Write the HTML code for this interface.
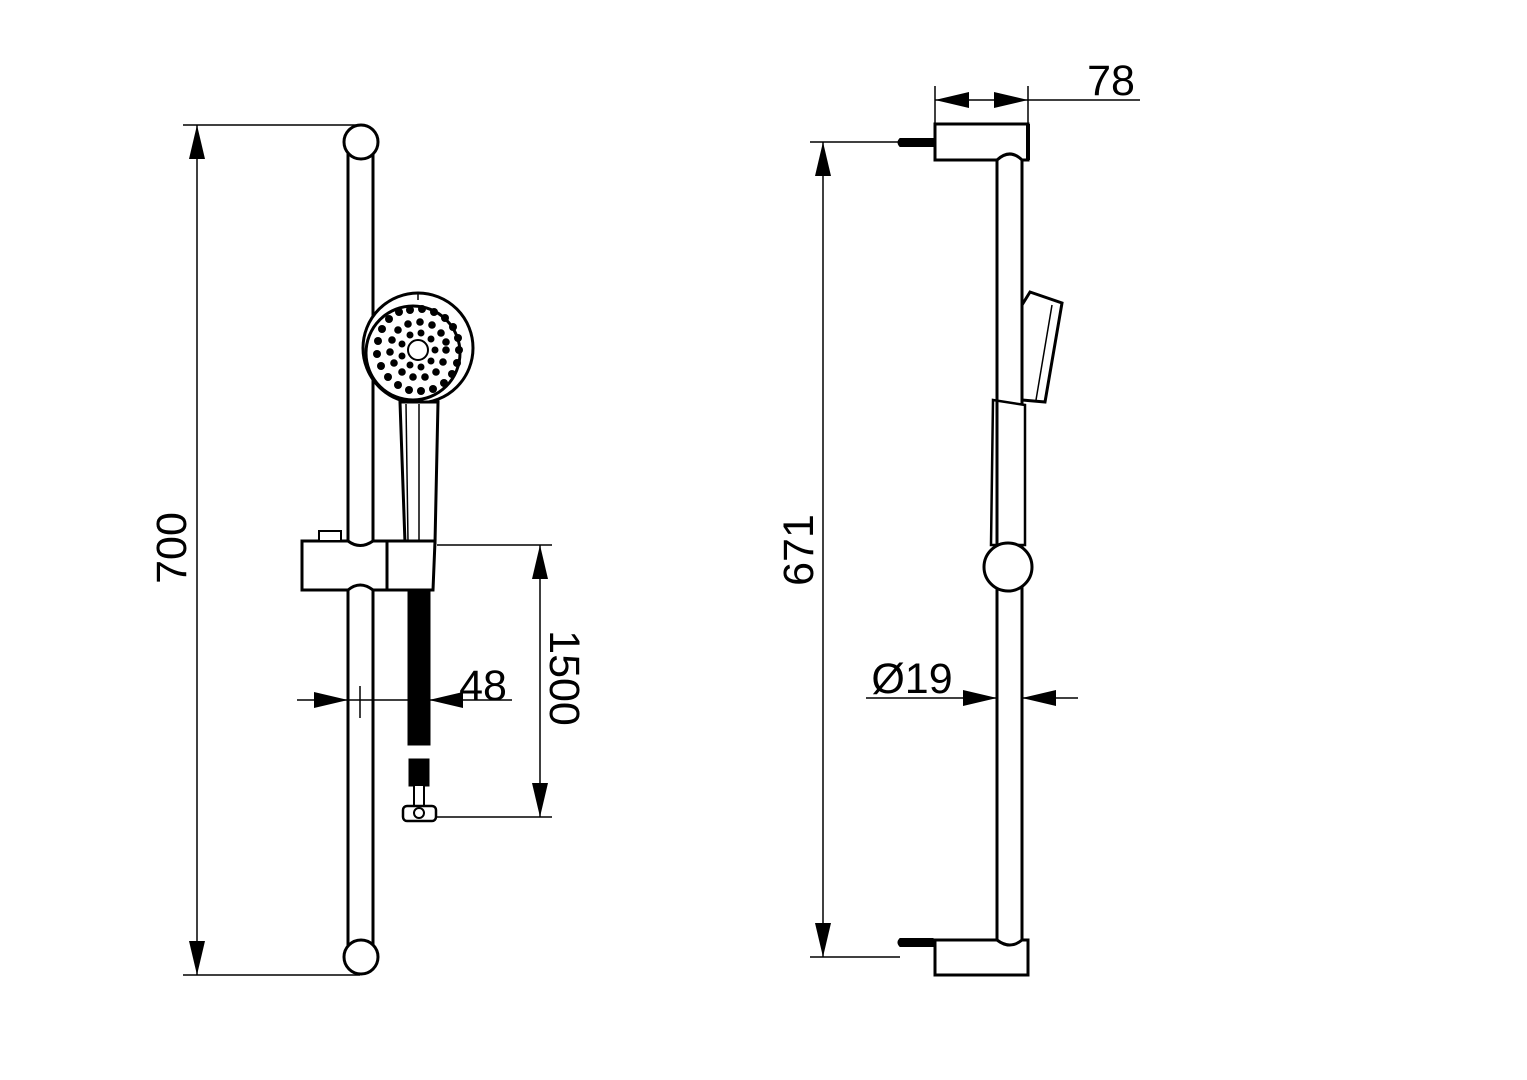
<!DOCTYPE html>
<html><head><meta charset="utf-8"><style>
html,body{margin:0;padding:0;background:#fff;}
svg{display:block;}
text{font-family:"Liberation Sans",sans-serif;font-size:43px;fill:#000;}
</style></head><body>
<svg width="1527" height="1080" viewBox="0 0 1527 1080" xmlns="http://www.w3.org/2000/svg">
<defs>
<marker id="a" viewBox="0 0 34 16" refX="34" refY="8" markerWidth="34" markerHeight="16" markerUnits="userSpaceOnUse" orient="auto-start-reverse"><path d="M0,0 L34,8 L0,16 Z" fill="#000"/></marker>
</defs>
<g stroke="#000" fill="none" stroke-width="1.5">
<line x1="183" y1="125" x2="360" y2="125"/>
<line x1="183" y1="975" x2="360" y2="975"/>
<line x1="197" y1="125" x2="197" y2="975" marker-start="url(#a)" marker-end="url(#a)"/>
<line x1="437" y1="545" x2="552" y2="545"/>
<line x1="437" y1="817" x2="552" y2="817"/>
<line x1="540" y1="545" x2="540" y2="817" marker-start="url(#a)" marker-end="url(#a)"/>
<line x1="297" y1="700" x2="348" y2="700" marker-end="url(#a)"/>
<line x1="512" y1="700" x2="429" y2="700" marker-end="url(#a)"/>
<line x1="348" y1="700" x2="429" y2="700"/>
<line x1="360" y1="686" x2="360" y2="718"/>
<line x1="935" y1="86" x2="935" y2="125"/>
<line x1="1028" y1="86" x2="1028" y2="125"/>
<line x1="935" y1="100" x2="1028" y2="100" marker-start="url(#a)" marker-end="url(#a)"/>
<line x1="1028" y1="100" x2="1140" y2="100"/>
<line x1="810" y1="142" x2="900" y2="142"/>
<line x1="810" y1="957" x2="900" y2="957"/>
<line x1="823" y1="142" x2="823" y2="957" marker-start="url(#a)" marker-end="url(#a)"/>
<line x1="866" y1="698" x2="997" y2="698" marker-end="url(#a)"/>
<line x1="1078" y1="698" x2="1022" y2="698" marker-end="url(#a)"/>
</g>
<g stroke="#000" fill="#fff" stroke-width="3">
<line x1="348" y1="150" x2="348" y2="950"/>
<line x1="373" y1="150" x2="373" y2="950"/>
<circle cx="361" cy="142" r="17"/>
<circle cx="361" cy="957" r="17"/>
<circle cx="418" cy="348" r="55"/>
<circle cx="413" cy="353" r="47"/>
<line x1="418" y1="292" x2="418" y2="300" stroke-width="1.5"/>
<path d="M400,402 L438,402 L435,543 L405,543 Z"/>
<line x1="419" y1="404" x2="419" y2="541" stroke-width="1.5"/>
<line x1="406" y1="404" x2="408" y2="541" stroke-width="1.5"/>
<circle cx="418" cy="350" r="10" stroke-width="2"/>
<path d="M302,541 L348,541 Q360,550 373,541 L435,541 L433,590 L373,590 Q360,580 348,590 L302,590 Z"/>
<line x1="387" y1="541" x2="387" y2="590"/>
<rect x="319" y="531" width="22" height="10" stroke-width="2"/>
<rect x="409" y="591" width="20" height="153" fill="#000"/>
<rect x="410" y="760" width="18" height="25" fill="#000"/>
<rect x="414" y="785" width="10" height="21" stroke-width="2"/>
<rect x="403" y="806" width="33" height="15" rx="4" stroke-width="2.5"/>
<circle cx="419" cy="813" r="5" stroke-width="2"/>
<line x1="997" y1="158" x2="997" y2="942"/>
<line x1="1022" y1="158" x2="1022" y2="942"/>
<path d="M935,124 L1028,124 L1028,160 L1022,160 Q1010,148 997,160 L935,160 Z"/>
<path d="M935,940 L997,940 Q1010,950 1022,940 L1028,940 L1028,975 L935,975 Z"/>
<line x1="1028" y1="124" x2="1028" y2="160" stroke-width="4"/>
<path d="M900,138.5 L933,138.5 L933,146.5 L900,146.5 Q896,142.5 900,138.5 Z" fill="#000" stroke-width="1"/>
<path d="M900,938.5 L933,938.5 L933,946.5 L900,946.5 Q896,942.5 900,938.5 Z" fill="#000" stroke-width="1"/>
<path d="M993,400 L1025,405 L1025,545 L991,545 Z" stroke-width="2.5"/>
<line x1="997" y1="400" x2="997" y2="545" stroke-width="3"/>
<path d="M1022,305 L1030,292 L1062,303 L1045,402 L1022,400 Z"/>
<line x1="1052" y1="305" x2="1036" y2="400" stroke-width="1.5"/>
<circle cx="1008" cy="567" r="24"/>
</g>
<text x="0" y="0" transform="translate(186,548) rotate(-90)" text-anchor="middle">700</text>
<text x="0" y="0" transform="translate(550,678) rotate(90)" text-anchor="middle">1500</text>
<text x="0" y="0" transform="translate(813,550) rotate(-90)" text-anchor="middle">671</text>
<text x="483" y="700" text-anchor="middle">48</text>
<text x="1111" y="95" text-anchor="middle">78</text>
<text x="912" y="693" text-anchor="middle">Ø19</text>
<g fill="#000">
<circle cx="459" cy="350" r="4"/><circle cx="457" cy="363" r="4"/><circle cx="452" cy="374" r="4"/><circle cx="444" cy="383" r="4"/><circle cx="433" cy="389" r="4"/><circle cx="421" cy="391" r="4"/><circle cx="409" cy="390" r="4"/><circle cx="398" cy="385" r="4"/><circle cx="388" cy="377" r="4"/><circle cx="381" cy="366" r="4"/><circle cx="377" cy="354" r="4"/><circle cx="378" cy="341" r="4"/><circle cx="382" cy="329" r="4"/><circle cx="389" cy="319" r="4"/><circle cx="399" cy="312" r="4"/><circle cx="410" cy="310" r="4"/><circle cx="422" cy="309" r="4"/><circle cx="434" cy="312" r="4"/><circle cx="445" cy="318" r="4"/><circle cx="453" cy="327" r="4"/><circle cx="458" cy="338" r="4"/>
<circle cx="446" cy="350" r="3.8"/><circle cx="443" cy="362" r="3.8"/><circle cx="436" cy="372" r="3.8"/><circle cx="425" cy="377" r="3.8"/><circle cx="413" cy="377" r="3.8"/><circle cx="402" cy="372" r="3.8"/><circle cx="394" cy="363" r="3.8"/><circle cx="390" cy="352" r="3.8"/><circle cx="392" cy="340" r="3.8"/><circle cx="398" cy="330" r="3.8"/><circle cx="408" cy="324" r="3.8"/><circle cx="420" cy="322" r="3.8"/><circle cx="432" cy="325" r="3.8"/><circle cx="441" cy="333" r="3.8"/><circle cx="446" cy="342" r="3.8"/>
<circle cx="435" cy="350" r="3.5"/><circle cx="431" cy="361" r="3.5"/><circle cx="421" cy="367" r="3.5"/><circle cx="410" cy="365" r="3.5"/><circle cx="402" cy="356" r="3.5"/><circle cx="402" cy="344" r="3.5"/><circle cx="410" cy="335" r="3.5"/><circle cx="421" cy="333" r="3.5"/><circle cx="431" cy="339" r="3.5"/>
</g>
</svg>
</body></html>
